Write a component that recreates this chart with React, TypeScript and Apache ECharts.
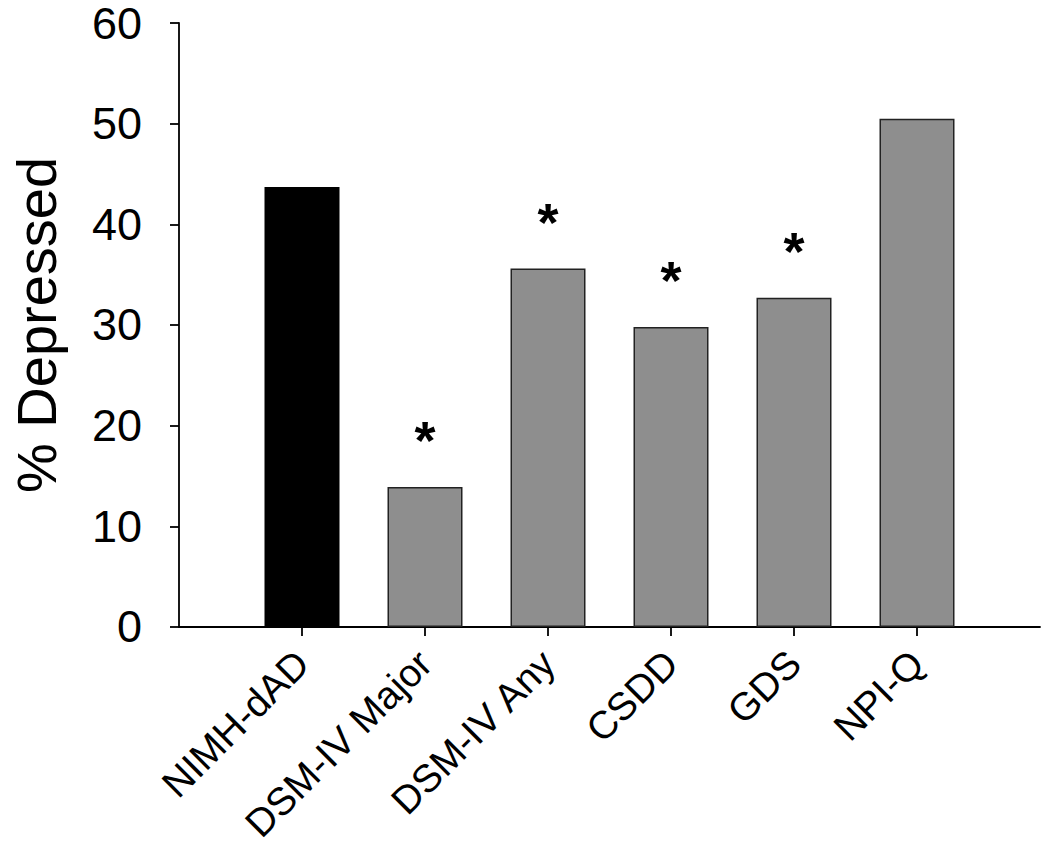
import React, { useEffect, useRef } from "react";
import * as echarts from "echarts";

const categories = ["NIMH-dAD", "DSM-IV Major", "DSM-IV Any", "CSDD", "GDS", "NPI-Q"];
const values = [43.7, 13.9, 35.6, 29.8, 32.7, 50.5];
const significant = [false, true, true, true, true, false];
const barColors = ["#000000", "#8e8e8e", "#8e8e8e", "#8e8e8e", "#8e8e8e", "#8e8e8e"];
const yTicks = [0, 10, 20, 30, 40, 50, 60];
const yAxisName = "% Depressed";

const FONT = "'Liberation Sans', Arial, Helvetica, sans-serif";

export default function App() {
  const ref = useRef<HTMLDivElement>(null);
  useEffect(() => {
    document.body.style.margin = "0";
    const chart = echarts.init(ref.current!, null, { renderer: "svg" });
    const axisCats = ["", ...categories, ""];
    const n = axisCats.length;
    const inner = (i: number) => i > 0 && i < n - 1;
    const seriesData: any[] = [
      "-",
      ...values.map((v, i) => ({
        value: v,
        itemStyle: {
          color: barColors[i],
          borderColor: i === 0 ? "#000000" : "#222222",
          borderWidth: i === 0 ? 0 : 1.5,
        },
        label: { show: significant[i] },
      })),
      "-",
    ];
    chart.setOption({
      animation: false,
      backgroundColor: "#ffffff",
      grid: { left: 165, right: 10, top: 23, bottom: 212, containLabel: false },
      xAxis: {
        type: "category",
        data: axisCats,
        boundaryGap: false,
        axisLine: { show: true, lineStyle: { color: "#000", width: 1.8 } },
        axisTick: { show: true, interval: (i: number) => inner(i), length: 9, lineStyle: { color: "#000", width: 1.8 } },
        axisLabel: {
          interval: (i: number) => inner(i),
          rotate: 45,
          fontSize: 39,
          fontFamily: FONT,
          color: "#000",
          margin: 30,
        },
        splitLine: { show: false },
      },
      yAxis: {
        type: "value",
        min: yTicks[0],
        max: yTicks[yTicks.length - 1],
        interval: 10,
        name: yAxisName,
        nameLocation: "middle",
        nameGap: 115,
        nameTextStyle: { fontSize: 56, fontFamily: FONT, color: "#000" },
        axisLine: { show: true, lineStyle: { color: "#000", width: 1.8 } },
        axisTick: { show: true, inside: false, length: 9, lineStyle: { color: "#000", width: 1.8 } },
        axisLabel: { fontSize: 45, lineHeight: 36, fontFamily: FONT, color: "#000", margin: 37 },
        splitLine: { show: false },
      },
      series: [
        {
          type: "bar",
          data: seriesData,
          barWidth: 75,
          label: {
            show: false,
            position: "top",
            distance: 20,
            formatter: "*",
            fontSize: 54,
            fontWeight: "bold",
            fontFamily: FONT,
            color: "#000",
          },
        },
      ],
    });
    return () => chart.dispose();
  }, []);
  return <div ref={ref} style={{ position: "fixed", left: 0, top: 0, width: 1050, height: 846 }} />;
}
